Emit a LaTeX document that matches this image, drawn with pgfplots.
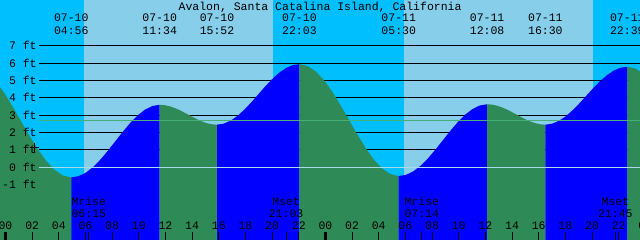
\documentclass[border=0pt]{standalone}
\usepackage{pgfplots}
\pgfplotsset{compat=1.18}
\usepackage{fontspec}
\setmainfont{Liberation Mono}
\definecolor{sky}{RGB}{135,206,235}
\definecolor{night}{RGB}{0,191,255}
\definecolor{rise}{RGB}{0,0,255}
\definecolor{fall}{RGB}{46,139,87}
\definecolor{zeroline}{RGB}{170,220,235}
\definecolor{meanline}{RGB}{70,175,120}
\tikzset{lab/.style={font=\fontsize{11.5bp}{13bp}\selectfont, inner sep=0pt, text=black}}
\begin{document}
\begin{tikzpicture}
\begin{axis}[width=640bp,height=240bp,scale only axis,
  xmin=-0.4125,xmax=47.6,ymin=-4.22,ymax=9.66,
  axis lines=none,ticks=none,clip=true]
% sky and night
\addplot[fill=sky,draw=none] coordinates {(-1,-5) (49,-5) (49,10) (-1,10)};
\addplot[fill=night,draw=none] coordinates {(-1,-5) (5.89,-5) (5.89,10) (-1,10)};
\addplot[fill=night,draw=none] coordinates {(20.09,-5) (29.9,-5) (29.9,10) (20.09,10)};
\addplot[fill=night,draw=none] coordinates {(44.05,-5) (49,-5) (49,10) (44.05,10)};
% foot lines
\addplot[black,line width=1bp] coordinates {(2.51,1) (48,1)};
\addplot[black,line width=1bp] coordinates {(2.51,2) (48,2)};
\addplot[black,line width=1bp] coordinates {(2.51,3) (48,3)};
\addplot[black,line width=1bp] coordinates {(2.51,4) (48,4)};
\addplot[black,line width=1bp] coordinates {(2.51,5) (48,5)};
\addplot[black,line width=1bp] coordinates {(2.51,6) (48,6)};
\addplot[black,line width=1bp] coordinates {(2.51,7) (48,7)};
% tide segments
\addplot[fill=fall,draw=none] coordinates {(-2.6,5.9) (-1.972,5.789) (-1.344,5.465) (-0.717,4.948) (-0.089,4.275) (0.539,3.491) (1.167,2.65) (1.794,1.809) (2.422,1.025) (3.050,0.352) (3.678,-0.165) (4.305,-0.489) (4.933,-0.6) (4.933,-5) (-2.6,-5)};
\addplot[fill=rise,draw=none] coordinates {(4.933,-0.6) (5.486,-0.528) (6.039,-0.319) (6.592,0.015) (7.144,0.45) (7.697,0.957) (8.250,1.5) (8.803,2.044) (9.356,2.55) (9.908,2.985) (10.461,3.319) (11.014,3.528) (11.567,3.6) (11.567,-5) (4.933,-5)};
\addplot[fill=fall,draw=none] coordinates {(11.567,3.6) (11.925,3.580) (12.283,3.523) (12.642,3.432) (13.000,3.313) (13.358,3.174) (13.717,3.025) (14.075,2.876) (14.433,2.738) (14.792,2.618) (15.150,2.527) (15.508,2.470) (15.867,2.45) (15.867,-5) (11.567,-5)};
\addplot[fill=rise,draw=none] coordinates {(15.867,2.45) (16.382,2.510) (16.897,2.684) (17.413,2.963) (17.928,3.325) (18.443,3.747) (18.958,4.2) (19.474,4.653) (19.989,5.075) (20.504,5.437) (21.019,5.716) (21.535,5.890) (22.05,5.95) (22.05,-5) (15.867,-5)};
\addplot[fill=fall,draw=none] coordinates {(22.05,5.95) (22.671,5.840) (23.292,5.517) (23.913,5.002) (24.533,4.333) (25.154,3.552) (25.775,2.715) (26.396,1.878) (27.017,1.098) (27.638,0.428) (28.258,-0.087) (28.879,-0.410) (29.5,-0.52) (29.5,-5) (22.05,-5)};
\addplot[fill=rise,draw=none] coordinates {(29.5,-0.52) (30.053,-0.449) (30.606,-0.242) (31.158,0.088) (31.711,0.518) (32.264,1.018) (32.817,1.555) (33.369,2.092) (33.922,2.593) (34.475,3.022) (35.028,3.352) (35.581,3.559) (36.133,3.63) (36.133,-5) (29.5,-5)};
\addplot[fill=fall,draw=none] coordinates {(36.133,3.63) (36.497,3.610) (36.861,3.551) (37.225,3.457) (37.589,3.335) (37.953,3.193) (38.317,3.04) (38.680,2.887) (39.044,2.745) (39.408,2.623) (39.772,2.529) (40.136,2.470) (40.5,2.45) (40.5,-5) (36.133,-5)};
\addplot[fill=rise,draw=none] coordinates {(40.5,2.45) (41.013,2.507) (41.525,2.674) (42.038,2.941) (42.55,3.288) (43.063,3.691) (43.575,4.125) (44.088,4.559) (44.6,4.963) (45.113,5.309) (45.625,5.576) (46.138,5.743) (46.65,5.80) (46.65,-5) (40.5,-5)};
\addplot[fill=fall,draw=none] coordinates {(46.65,5.80) (47.271,5.694) (47.892,5.381) (48.513,4.885) (48.513,-5) (46.65,-5)};
% zero and mean lines
\addplot[zeroline,line width=1bp] coordinates {(2.51,0) (48,0)};
\addplot[meanline,line width=1bp] coordinates {(2.51,2.70) (48,2.70)};
% current-time marker
\addplot[black,only marks,mark=+,mark size=4.5bp,line width=1bp] coordinates {(2.2,1.14)};
% y labels
\node[lab,anchor=base east] at (axis cs:2.35,6.77) {7 ft};
\node[lab,anchor=base east] at (axis cs:2.35,5.77) {6 ft};
\node[lab,anchor=base east] at (axis cs:2.35,4.77) {5 ft};
\node[lab,anchor=base east] at (axis cs:2.35,3.77) {4 ft};
\node[lab,anchor=base east] at (axis cs:2.35,2.77) {3 ft};
\node[lab,anchor=base east] at (axis cs:2.35,1.77) {2 ft};
\node[lab,anchor=base east] at (axis cs:2.35,0.77) {1 ft};
\node[lab,anchor=base east] at (axis cs:2.35,-0.23) {0 ft};
\node[lab,anchor=base east] at (axis cs:2.35,-1.23) {-1 ft};
% title and tide times
\node[lab,anchor=base] at (axis cs:23.6,9.08) {Avalon, Santa Catalina Island, California};
\node[lab,anchor=base] at (axis cs:4.933,8.40) {07-10};
\node[lab,anchor=base] at (axis cs:4.933,7.69) {04:56};
\node[lab,anchor=base] at (axis cs:11.567,8.40) {07-10};
\node[lab,anchor=base] at (axis cs:11.567,7.69) {11:34};
\node[lab,anchor=base] at (axis cs:15.867,8.40) {07-10};
\node[lab,anchor=base] at (axis cs:15.867,7.69) {15:52};
\node[lab,anchor=base] at (axis cs:22.05,8.40) {07-10};
\node[lab,anchor=base] at (axis cs:22.05,7.69) {22:03};
\node[lab,anchor=base] at (axis cs:29.5,8.40) {07-11};
\node[lab,anchor=base] at (axis cs:29.5,7.69) {05:30};
\node[lab,anchor=base] at (axis cs:36.133,8.40) {07-11};
\node[lab,anchor=base] at (axis cs:36.133,7.69) {12:08};
\node[lab,anchor=base] at (axis cs:40.5,8.40) {07-11};
\node[lab,anchor=base] at (axis cs:40.5,7.69) {16:30};
\node[lab,anchor=base] at (axis cs:46.65,8.40) {07-11};
\node[lab,anchor=base] at (axis cs:46.65,7.69) {22:39};
% moon labels
\node[lab,anchor=base] at (axis cs:6.25,-2.24) {Mrise};
\node[lab,anchor=base] at (axis cs:6.25,-2.91) {06:15};
\node[lab,anchor=base] at (axis cs:21.05,-2.24) {Mset};
\node[lab,anchor=base] at (axis cs:21.05,-2.91) {21:03};
\node[lab,anchor=base] at (axis cs:31.233,-2.24) {Mrise};
\node[lab,anchor=base] at (axis cs:31.233,-2.91) {07:14};
\node[lab,anchor=base] at (axis cs:45.75,-2.24) {Mset};
\node[lab,anchor=base] at (axis cs:45.75,-2.91) {21:45};
% hour ticks
\pgfplotsinvokeforeach{2,4,...,22,26,28,...,46}{\draw[black,line width=1bp] (axis cs:#1,-3.76) -- (axis cs:#1,-4.4);}
\pgfplotsinvokeforeach{0,24,48}{\draw[black,line width=3bp] (axis cs:#1,-3.76) -- (axis cs:#1,-4.4);}
\pgfplotsinvokeforeach{6.25,21.05,31.233,45.75}{\draw[black,line width=1bp] (axis cs:#1,-3.76) -- (axis cs:#1,-4.4);}
% hour labels
\node[lab,anchor=base] at (axis cs:0,-3.60) {00};
\node[lab,anchor=base] at (axis cs:2,-3.60) {02};
\node[lab,anchor=base] at (axis cs:4,-3.60) {04};
\node[lab,anchor=base] at (axis cs:6,-3.60) {06};
\node[lab,anchor=base] at (axis cs:8,-3.60) {08};
\node[lab,anchor=base] at (axis cs:10,-3.60) {10};
\node[lab,anchor=base] at (axis cs:12,-3.60) {12};
\node[lab,anchor=base] at (axis cs:14,-3.60) {14};
\node[lab,anchor=base] at (axis cs:16,-3.60) {16};
\node[lab,anchor=base] at (axis cs:18,-3.60) {18};
\node[lab,anchor=base] at (axis cs:20,-3.60) {20};
\node[lab,anchor=base] at (axis cs:22,-3.60) {22};
\node[lab,anchor=base] at (axis cs:24,-3.60) {00};
\node[lab,anchor=base] at (axis cs:26,-3.60) {02};
\node[lab,anchor=base] at (axis cs:28,-3.60) {04};
\node[lab,anchor=base] at (axis cs:30,-3.60) {06};
\node[lab,anchor=base] at (axis cs:32,-3.60) {08};
\node[lab,anchor=base] at (axis cs:34,-3.60) {10};
\node[lab,anchor=base] at (axis cs:36,-3.60) {12};
\node[lab,anchor=base] at (axis cs:38,-3.60) {14};
\node[lab,anchor=base] at (axis cs:40,-3.60) {16};
\node[lab,anchor=base] at (axis cs:42,-3.60) {18};
\node[lab,anchor=base] at (axis cs:44,-3.60) {20};
\node[lab,anchor=base] at (axis cs:46,-3.60) {22};
\node[lab,anchor=base] at (axis cs:48,-3.60) {00};
\end{axis}
\pgfresetboundingbox
\path[use as bounding box] (0,0) rectangle (640bp,240bp);
\end{tikzpicture}
\end{document}
